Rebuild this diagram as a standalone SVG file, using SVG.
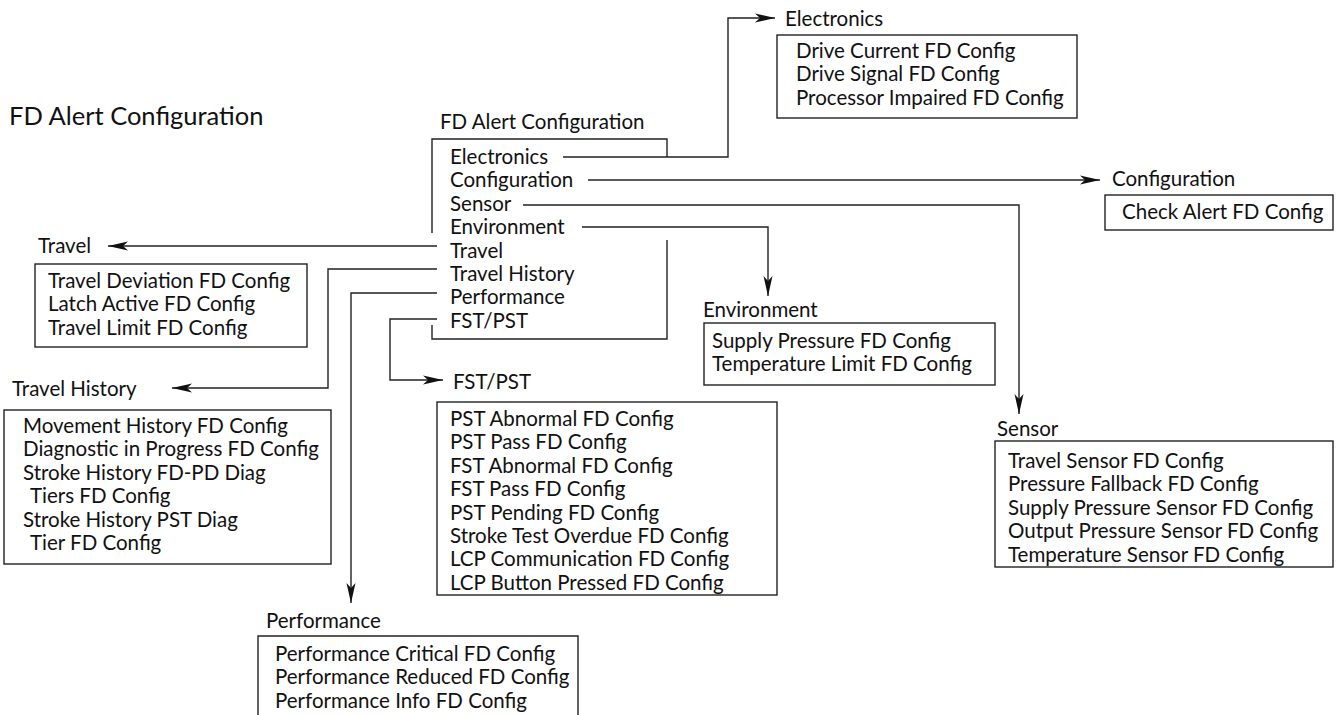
<svg xmlns="http://www.w3.org/2000/svg" width="1336" height="715" viewBox="0 0 1336 715">
<defs>
<style>
text{font-family:Lato,"Open Sans","Liberation Sans",sans-serif;font-size:20.5px;fill:#111}
.title{font-size:25.5px}
.box{fill:none;stroke:#222;stroke-width:1.4}
.ln{fill:none;stroke:#222;stroke-width:1.4}
.conn path{fill:none;stroke:#222;stroke-width:1.4;marker-end:url(#arr)}
</style>
<marker id="arr" viewBox="0 0 20 10" refX="20" refY="5" markerWidth="20" markerHeight="10" orient="auto" markerUnits="userSpaceOnUse">
<path d="M0,0.5 L20,5 L0,9.5 L5,5 z" fill="#111"/>
</marker>
</defs>
<rect width="1336" height="715" fill="#fff"/>

<g id="title"><text class="title" x="9" y="125">FD Alert Configuration</text></g>

<g id="menu">
<text x="440" y="129">FD Alert Configuration</text>
<path class="ln" d="M432,233 V139 H667 V157"/>
<path class="ln" d="M667,240 V339 H432 V325"/>
<text x="450" y="164">Electronics</text>
<text x="450" y="187.4">Configuration</text>
<text x="450" y="210.8">Sensor</text>
<text x="450" y="234.2">Environment</text>
<text x="450" y="257.6">Travel</text>
<text x="450" y="281">Travel History</text>
<text x="450" y="304.4">Performance</text>
<text x="450" y="327.8">FST/PST</text>
</g>

<g id="electronics">
<text x="785" y="26">Electronics</text>
<rect class="box" x="777" y="35" width="300" height="83"/>
<text x="796" y="58">Drive Current FD Config</text>
<text x="796" y="81.4">Drive Signal FD Config</text>
<text x="796" y="104.8">Processor Impaired FD Config</text>
</g>

<g id="configuration">
<text x="1112" y="186">Configuration</text>
<rect class="box" x="1105" y="195" width="228" height="35"/>
<text x="1122" y="219">Check Alert FD Config</text>
</g>

<g id="environment">
<text x="703" y="317">Environment</text>
<rect class="box" x="704" y="323" width="291" height="62"/>
<text x="712" y="348">Supply Pressure FD Config</text>
<text x="712" y="371.4">Temperature Limit FD Config</text>
</g>

<g id="sensor">
<text x="997" y="436">Sensor</text>
<rect class="box" x="995" y="441" width="338" height="126"/>
<text x="1008" y="468">Travel Sensor FD Config</text>
<text x="1008" y="491.4">Pressure Fallback FD Config</text>
<text x="1008" y="514.8">Supply Pressure Sensor FD Config</text>
<text x="1008" y="538.2">Output Pressure Sensor FD Config</text>
<text x="1008" y="561.6">Temperature Sensor FD Config</text>
</g>

<g id="travel">
<text x="38" y="253">Travel</text>
<rect class="box" x="35" y="264" width="272" height="83"/>
<text x="48" y="288">Travel Deviation FD Config</text>
<text x="48" y="311.4">Latch Active FD Config</text>
<text x="48" y="334.8">Travel Limit FD Config</text>
</g>

<g id="travel-history">
<text x="12" y="396">Travel History</text>
<rect class="box" x="4" y="410" width="327" height="154"/>
<text x="23" y="433">Movement History FD Config</text>
<text x="23" y="456.4">Diagnostic in Progress FD Config</text>
<text x="23" y="479.8">Stroke History FD-PD Diag</text>
<text x="30" y="503.2">Tiers FD Config</text>
<text x="23" y="526.6">Stroke History PST Diag</text>
<text x="30" y="550">Tier FD Config</text>
</g>

<g id="fst-pst">
<text x="453" y="389">FST/PST</text>
<rect class="box" x="437" y="402" width="340" height="193"/>
<text x="450" y="426">PST Abnormal FD Config</text>
<text x="450" y="449.4">PST Pass FD Config</text>
<text x="450" y="472.8">FST Abnormal FD Config</text>
<text x="450" y="496.2">FST Pass FD Config</text>
<text x="450" y="519.6">PST Pending FD Config</text>
<text x="450" y="543">Stroke Test Overdue FD Config</text>
<text x="450" y="566.4">LCP Communication FD Config</text>
<text x="450" y="589.8">LCP Button Pressed FD Config</text>
</g>

<g id="performance">
<text x="266" y="628">Performance</text>
<path class="box" d="M258,720 V636 H578 V720"/>
<text x="275" y="661">Performance Critical FD Config</text>
<text x="275" y="684.4">Performance Reduced FD Config</text>
<text x="275" y="707.8">Performance Info FD Config</text>
</g>

<g id="connectors" class="conn">
<path d="M563,157 H728 V18 H775"/>
<path d="M588,180 H1100"/>
<path d="M523,205 H1019 V414"/>
<path d="M582,227 H768 V296"/>
<path d="M437,246 H108"/>
<path d="M437,269 H328 V388 H172"/>
<path d="M437,293 H351 V603"/>
<path d="M437,319 H390 V380 H443"/>
</g>
</svg>
